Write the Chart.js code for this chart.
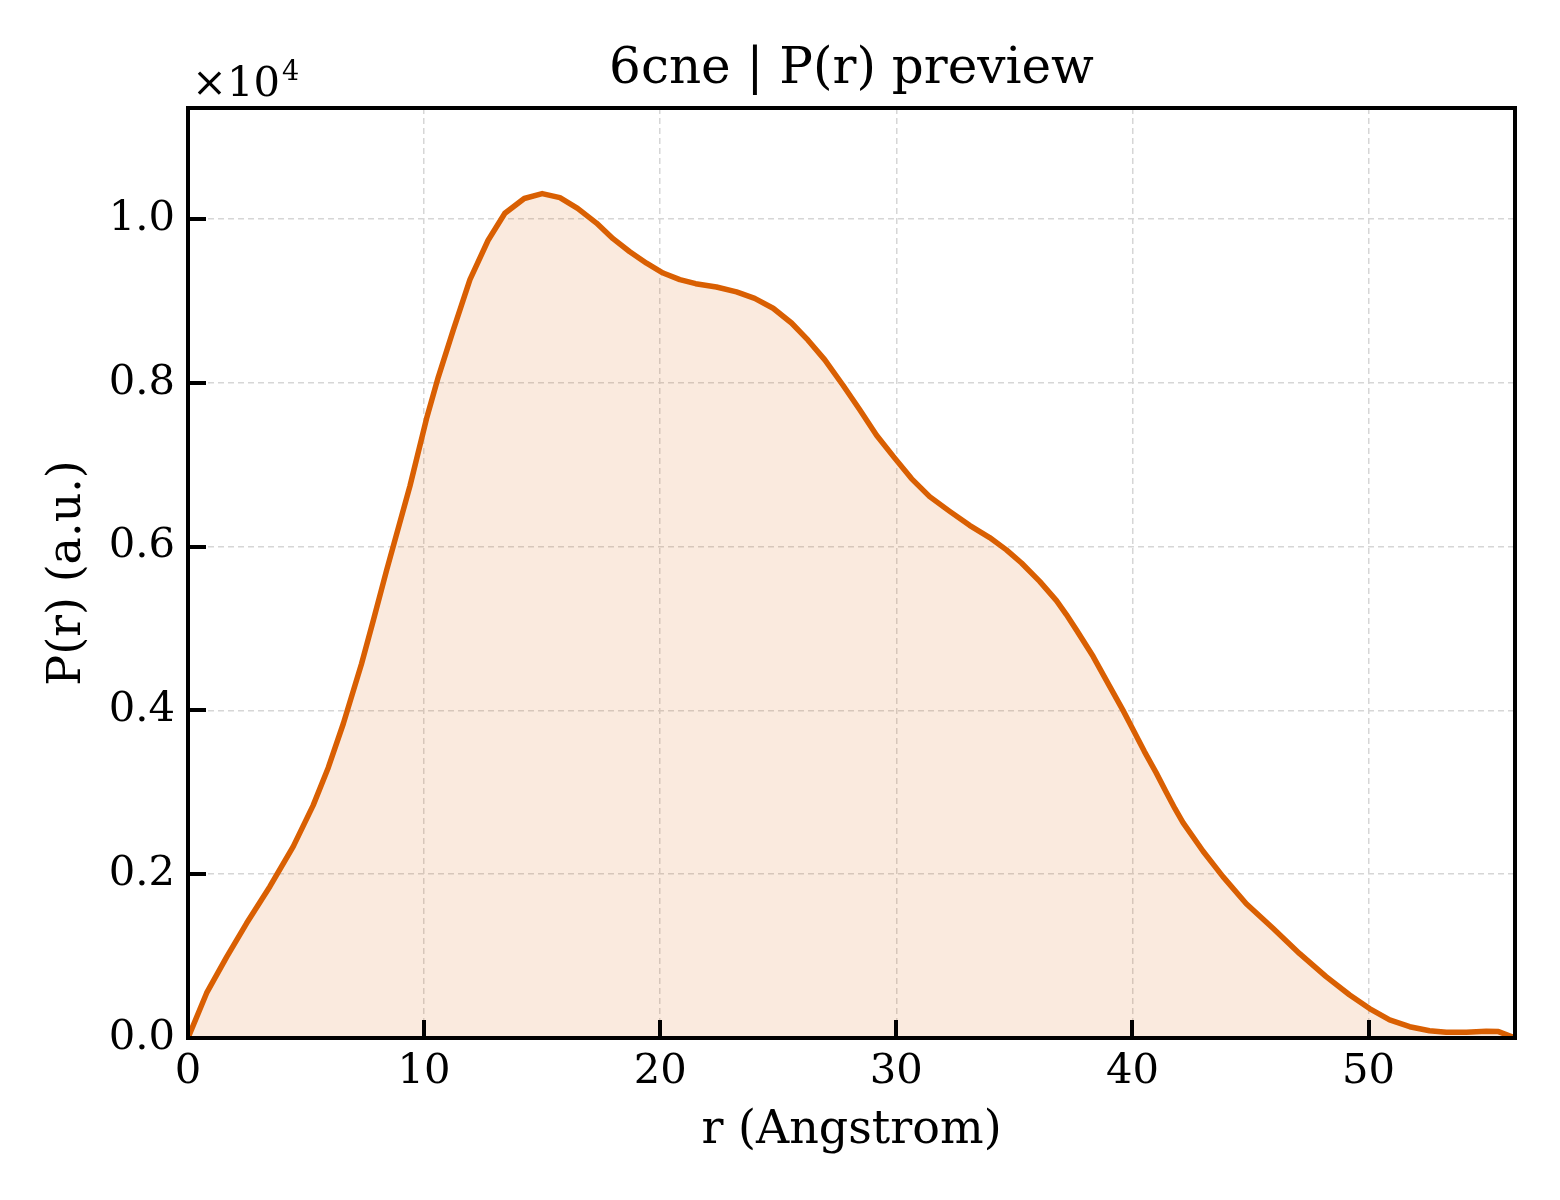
<!DOCTYPE html>
<html>
<head>
<meta charset="utf-8">
<title>6cne | P(r) preview</title>
<script src="https://cdn.jsdelivr.net/npm/chart.js@4.4.1/dist/chart.umd.min.js"></script>
<style>
    html, body { margin: 0; padding: 0; background: #ffffff; }
    #wrap { width: 1560px; height: 1200px; }
</style>
</head>
<body>
<div id="wrap"><canvas id="prChart" width="1560" height="1200"></canvas></div>
<script>
// r in Angstrom, P(r) in raw units (axis shows x10^4)
const rValues = [
    0, 0.79, 1.64, 2.48, 3.47, 4.46, 5.3, 5.94, 6.58, 7.35,
    7.85, 8.41, 9.4, 10.1, 10.6, 11.23, 11.94, 12.71, 13.42, 14.24,
    15.0, 15.75, 16.5, 17.3, 18.0, 18.71, 19.42, 20.12, 20.83, 21.5,
    22.38, 23.23, 24.0, 24.78, 25.56, 26.26, 26.97, 27.74, 28.45, 29.16,
    29.93, 30.64, 31.41, 32.26, 33.1, 33.95, 34.66, 35.3, 36.07, 36.78,
    37.2, 37.63, 38.33, 39.04, 39.6, 40.0, 40.5, 41.0, 41.43, 41.8,
    42.14, 42.99, 43.83, 44.82, 45.95, 47.08, 48.2, 49.2, 50.04, 50.89,
    51.74, 52.58, 53.29, 54.14, 54.98, 55.5, 56.2
];
const prValues = [
    0, 550, 990, 1400, 1850, 2340, 2840, 3300, 3840, 4570,
    5100, 5710, 6740, 7560, 8070, 8640, 9260, 9740, 10070, 10250,
    10310, 10260, 10130, 9950, 9760, 9600, 9460, 9340, 9260, 9210,
    9170, 9110, 9030, 8910, 8730, 8520, 8280, 7970, 7670, 7360,
    7080, 6830, 6610, 6430, 6260, 6110, 5960, 5800, 5575, 5340,
    5170, 4980, 4660, 4290, 4000, 3780, 3500, 3240, 3000, 2800,
    2630, 2280, 1970, 1640, 1340, 1030, 750, 525, 360, 220,
    138, 89, 69, 69, 81, 78, 0
];
const xTicks = [0, 10, 20, 30, 40, 50];
const yTicks = [0, 2000, 4000, 6000, 8000, 10000];

const FONT = "'DejaVu Serif', 'Liberation Serif', serif";
const LINE_COLOR = '#d95f02';
const GRID_COLOR = '#d6d6d6';
const TICK_LEN = 18;
const TICK_W = 4;
const FRAME_W = 4;

// matplotlib style frame, inward ticks and the x10^4 offset text
const framePlugin = {
    id: 'frame',
    afterDraw(chart)
    {
        const ctx = chart.ctx;
        const area = chart.chartArea;
        const xs = chart.scales.x;
        const ys = chart.scales.y;
        const half = FRAME_W / 2;
        ctx.save();
        ctx.fillStyle = '#000000';

        xTicks.forEach(v =>
        {
            const px = Math.round(xs.getPixelForValue(v));
            ctx.fillRect(px - TICK_W / 2, area.bottom - TICK_LEN, TICK_W, TICK_LEN);
        });
        yTicks.forEach(v =>
        {
            const py = Math.round(ys.getPixelForValue(v));
            ctx.fillRect(area.left, py - TICK_W / 2, TICK_LEN, TICK_W);
        });

        // frame as four bars
        const w = area.right - area.left;
        const h = area.bottom - area.top;
        ctx.fillRect(area.left - half, area.top - half, w + FRAME_W, FRAME_W);
        ctx.fillRect(area.left - half, area.bottom - half, w + FRAME_W, FRAME_W);
        ctx.fillRect(area.left - half, area.top - half, FRAME_W, h + FRAME_W);
        ctx.fillRect(area.right - half, area.top - half, FRAME_W, h + FRAME_W);

        ctx.textBaseline = 'alphabetic';
        ctx.textAlign = 'left';
        ctx.font = "41.7px " + FONT;
        ctx.fillText('\u00d710', area.left + 4, area.top - 12);
        const tw = ctx.measureText('\u00d710').width;
        ctx.font = "27px " + FONT;
        ctx.fillText('4', area.left + 4 + tw + 2, area.top - 28);
        ctx.restore();
    }
};

function buildPoints()
{
    return rValues.map((r, i) => ({ x: r, y: prValues[i] }));
}

function createChart()
{
    const ctx = document.getElementById('prChart').getContext('2d');
    return new Chart(ctx, {
        type: 'line',
        data: {
            datasets: [{
                label: 'P(r)',
                data: buildPoints(),
                borderColor: LINE_COLOR,
                backgroundColor: 'rgba(217, 95, 2, 0.13)',
                borderWidth: 5.5,
                fill: 'origin',
                tension: 0,
                pointRadius: 0,
                borderJoinStyle: 'round'
            }]
        },
        options: {
            responsive: false,
            animation: false,
            devicePixelRatio: 1,
            layout: { padding: { left: 0, right: 45, top: 0, bottom: 0 } },
            plugins: {
                legend: { display: false },
                tooltip: { enabled: false },
                title: {
                    display: true,
                    fullSize: false,
                    text: '6cne | P(r) preview',
                    color: '#000000',
                    font: { family: FONT, size: 50, weight: 'normal' },
                    padding: { top: 40, bottom: 8 }
                }
            },
            scales: {
                x: {
                    type: 'linear',
                    min: 0,
                    max: 56.2,
                    afterFit: scale => { scale.height = 162; },
                    afterBuildTicks: scale => { scale.ticks = xTicks.map(v => ({ value: v })); },
                    grid: {
                        color: GRID_COLOR,
                        lineWidth: 1.5,
                        drawTicks: false
                    },
                    border: { display: false, dash: [6, 4] },
                    ticks: {
                        color: '#000000',
                        padding: 9,
                        maxRotation: 0,
                        font: { family: FONT, size: 41.7 },
                        callback: v => String(v)
                    },
                    title: {
                        display: true,
                        text: 'r (Angstrom)',
                        color: '#000000',
                        font: { family: FONT, size: 46 },
                        padding: { top: 41, bottom: 41 }
                    }
                },
                y: {
                    type: 'linear',
                    min: 0,
                    max: 11355,
                    afterFit: scale => { scale.width = 188; },
                    afterBuildTicks: scale => { scale.ticks = yTicks.map(v => ({ value: v })); },
                    grid: {
                        color: GRID_COLOR,
                        lineWidth: 1.5,
                        drawTicks: false
                    },
                    border: { display: false, dash: [6, 4] },
                    ticks: {
                        color: '#000000',
                        padding: 13,
                        font: { family: FONT, size: 41.7 },
                        callback: v => (v / 10000).toFixed(1)
                    },
                    title: {
                        display: true,
                        text: 'P(r) (a.u.)',
                        color: '#000000',
                        font: { family: FONT, size: 46 },
                        padding: { top: 40, bottom: 0 }
                    }
                }
            }
        },
        plugins: [framePlugin]
    });
}

createChart();
</script>
</body>
</html>
